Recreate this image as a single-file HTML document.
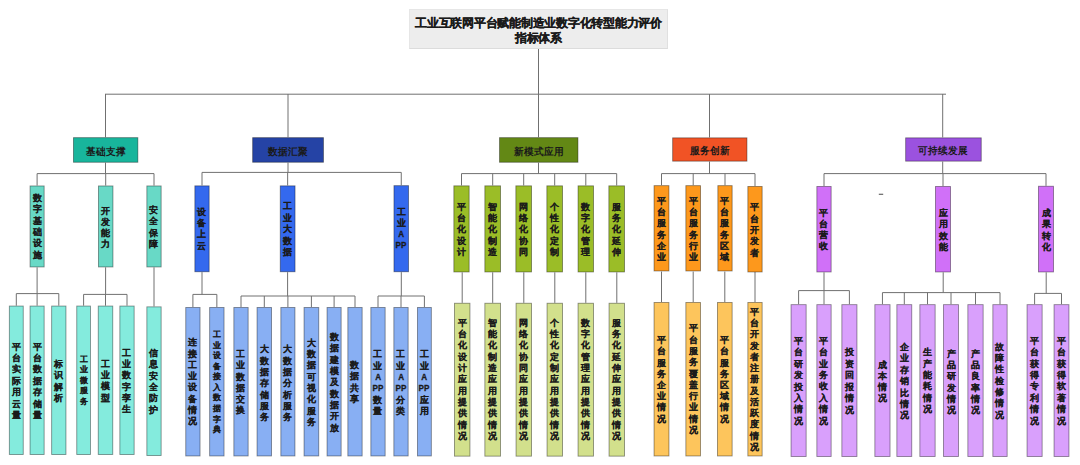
<!DOCTYPE html>
<html><head><meta charset="utf-8"><title>指标体系</title>
<style>
html,body{margin:0;padding:0;background:#fff;}
body{width:1080px;height:465px;position:relative;overflow:hidden;font-family:"Liberation Sans", sans-serif;}
.ln{position:absolute;left:0;top:0;}
.title{position:absolute;left:409px;top:9px;width:259px;height:40px;box-sizing:border-box;background:#ededed;border:1px solid #e6e6e6;border-bottom-color:#dcdcdc;border-right-color:#e0e0e0;}
.tt{position:absolute;left:409px;width:259px;text-align:center;font-size:12px;line-height:16px;transform:scale(0.98);transform-origin:50% 0;font-weight:bold;color:#1a1a1a;white-space:nowrap;-webkit-text-stroke:0.25px #1a1a1a;}
.l1{position:absolute;text-align:center;font-size:10px;transform:scale(1.0,1.04);transform-origin:50% 50%;font-weight:bold;color:#1a1a1a;white-space:nowrap;}
.t{position:absolute;text-align:center;font-weight:bold;color:#1a1a1a;white-space:nowrap;-webkit-text-stroke:0.12px #1a1a1a;}
.lat{font-size:9px;display:inline-block;transform:scale(0.9,1.0);-webkit-text-stroke:0.3px #1a1a1a;}
</style></head><body>
<svg class="ln" width="1080" height="465" viewBox="0 0 1080 465"><g stroke="#707070" stroke-width="1" fill="none"><line x1="538.5" y1="49" x2="538.5" y2="94"/><line x1="105" y1="94.2" x2="946" y2="94.2"/><line x1="878.8" y1="194.3" x2="883.2" y2="194.3" stroke="#666" stroke-width="1.2"/><line x1="105.5" y1="94" x2="105.5" y2="137.2"/><line x1="288" y1="94" x2="288" y2="137.2"/><line x1="538.5" y1="94" x2="538.5" y2="137.2"/><line x1="709.5" y1="94" x2="709.5" y2="137.4"/><line x1="942.7" y1="94" x2="942.7" y2="137.4"/><line x1="105.5" y1="162.7" x2="105.5" y2="173.6"/><line x1="37.1" y1="173.6" x2="154.0" y2="173.6"/><line x1="37.1" y1="173.6" x2="37.1" y2="185.5"/><line x1="105.7" y1="173.6" x2="105.7" y2="185.5"/><line x1="154.0" y1="173.6" x2="154.0" y2="185.5"/><line x1="288" y1="162.7" x2="288" y2="172.4"/><line x1="202.0" y1="172.4" x2="401.25" y2="172.4"/><line x1="202.0" y1="172.4" x2="202.0" y2="185.4"/><line x1="287.65" y1="172.4" x2="287.65" y2="185.4"/><line x1="401.25" y1="172.4" x2="401.25" y2="185.2"/><line x1="538.5" y1="162.7" x2="538.5" y2="173.6"/><line x1="461.5" y1="173.6" x2="616.7" y2="173.6"/><line x1="461.5" y1="173.6" x2="461.5" y2="185.4"/><line x1="492.7" y1="173.6" x2="492.7" y2="185.4"/><line x1="523.7" y1="173.6" x2="523.7" y2="185.4"/><line x1="554.7" y1="173.6" x2="554.7" y2="185.4"/><line x1="585.8" y1="173.6" x2="585.8" y2="185.4"/><line x1="616.7" y1="173.6" x2="616.7" y2="185.4"/><line x1="709.5" y1="161.6" x2="709.5" y2="173.6"/><line x1="661.5" y1="173.6" x2="755.0" y2="173.6"/><line x1="661.5" y1="173.6" x2="661.5" y2="185.2"/><line x1="693.2" y1="173.6" x2="693.2" y2="185.2"/><line x1="725.0" y1="173.6" x2="725.0" y2="185.2"/><line x1="755.0" y1="173.6" x2="755.0" y2="186"/><line x1="942.7" y1="161.6" x2="942.7" y2="173.6"/><line x1="824.0" y1="173.6" x2="1046.0" y2="173.6"/><line x1="824.0" y1="173.6" x2="824.0" y2="186"/><line x1="943.0" y1="173.6" x2="943.0" y2="186"/><line x1="1046.0" y1="173.6" x2="1046.0" y2="185.8"/><line x1="37.1" y1="267.4" x2="37.1" y2="293.6"/><line x1="16.3" y1="293.6" x2="58.800000000000004" y2="293.6"/><line x1="16.3" y1="293.6" x2="16.3" y2="305.6"/><line x1="37.1" y1="293.6" x2="37.1" y2="305.6"/><line x1="58.800000000000004" y1="293.6" x2="58.800000000000004" y2="305.6"/><line x1="105.6" y1="267.4" x2="105.6" y2="294.4"/><line x1="83.6" y1="294.4" x2="127.0" y2="294.4"/><line x1="83.6" y1="294.4" x2="83.6" y2="305.6"/><line x1="105.5" y1="294.4" x2="105.5" y2="305.6"/><line x1="127.0" y1="294.4" x2="127.0" y2="305.6"/><line x1="154" y1="267.4" x2="154" y2="306.4"/><line x1="202" y1="272.2" x2="202" y2="294.4"/><line x1="192.9" y1="294.4" x2="216.85" y2="294.4"/><line x1="192.9" y1="294.4" x2="192.9" y2="307"/><line x1="216.85" y1="294.4" x2="216.85" y2="307"/><line x1="287.6" y1="272.2" x2="287.6" y2="296"/><line x1="241.0" y1="296" x2="355.0" y2="296"/><line x1="241.0" y1="296" x2="241.0" y2="307"/><line x1="264.3" y1="296" x2="264.3" y2="307"/><line x1="287.9" y1="296" x2="287.9" y2="307"/><line x1="311.4" y1="296" x2="311.4" y2="307"/><line x1="334.1" y1="296" x2="334.1" y2="307"/><line x1="355.0" y1="296" x2="355.0" y2="307"/><line x1="401.3" y1="272.2" x2="401.3" y2="296"/><line x1="378.0" y1="296" x2="424.4" y2="296"/><line x1="378.0" y1="296" x2="378.0" y2="307"/><line x1="401.0" y1="296" x2="401.0" y2="307"/><line x1="424.4" y1="296" x2="424.4" y2="307"/><line x1="462.2" y1="272.4" x2="462.2" y2="302.8"/><line x1="492.7" y1="272.4" x2="492.7" y2="302.8"/><line x1="523.8" y1="272.4" x2="523.8" y2="302.8"/><line x1="554.8" y1="272.4" x2="554.8" y2="302.8"/><line x1="585.8" y1="272.4" x2="585.8" y2="302.8"/><line x1="616.8" y1="272.4" x2="616.8" y2="302.8"/><line x1="661.5" y1="271.6" x2="661.5" y2="302"/><line x1="693.2" y1="271.6" x2="693.2" y2="302"/><line x1="724.8" y1="271.6" x2="724.8" y2="302"/><line x1="755.0" y1="271.6" x2="755.0" y2="302"/><line x1="824" y1="272.4" x2="824" y2="290.6"/><line x1="798.6" y1="290.6" x2="849.4" y2="290.6"/><line x1="798.6" y1="290.6" x2="798.6" y2="304.2"/><line x1="824.0" y1="290.6" x2="824.0" y2="304.2"/><line x1="849.4" y1="290.6" x2="849.4" y2="304.2"/><line x1="943.2" y1="272.4" x2="943.2" y2="292.6"/><line x1="882.45" y1="292.6" x2="1000.0" y2="292.6"/><line x1="882.45" y1="292.6" x2="882.45" y2="304.2"/><line x1="904.3" y1="292.6" x2="904.3" y2="304.2"/><line x1="927.5" y1="292.6" x2="927.5" y2="304.2"/><line x1="951.0" y1="292.6" x2="951.0" y2="304.2"/><line x1="975.5" y1="292.6" x2="975.5" y2="304.2"/><line x1="1000.0" y1="292.6" x2="1000.0" y2="304.2"/><line x1="1046.2" y1="272.4" x2="1046.2" y2="293.4"/><line x1="1034.6" y1="293.4" x2="1061.5" y2="293.4"/><line x1="1034.6" y1="293.4" x2="1034.6" y2="304.2"/><line x1="1061.5" y1="293.4" x2="1061.5" y2="304.2"/></g><g stroke-width="0.9"><rect x="73.45" y="137.65" width="64.40" height="24.60" fill="#18b59c" stroke="rgba(0,0,0,0.42)"/><rect x="252.65" y="137.65" width="70.80" height="24.60" fill="#2543a5" stroke="rgba(0,0,0,0.42)"/><rect x="499.55" y="137.65" width="78.40" height="24.60" fill="#638815" stroke="rgba(0,0,0,0.42)"/><rect x="672.65" y="137.85" width="74.30" height="23.30" fill="#f15325" stroke="rgba(0,0,0,0.42)"/><rect x="905.65" y="137.85" width="75.60" height="23.30" fill="#9b52df" stroke="rgba(0,0,0,0.42)"/><rect x="30.05" y="185.95" width="14.10" height="81.00" fill="#68d9c6" stroke="rgba(0,0,0,0.42)"/><rect x="98.45" y="185.95" width="14.50" height="81.00" fill="#68d9c6" stroke="rgba(0,0,0,0.42)"/><rect x="146.85" y="185.95" width="14.30" height="81.00" fill="#68d9c6" stroke="rgba(0,0,0,0.42)"/><rect x="194.85" y="185.85" width="14.30" height="85.90" fill="#3469ee" stroke="rgba(0,0,0,0.42)"/><rect x="280.25" y="185.85" width="14.80" height="85.90" fill="#3469ee" stroke="rgba(0,0,0,0.42)"/><rect x="393.95" y="185.65" width="14.60" height="86.10" fill="#3469ee" stroke="rgba(0,0,0,0.42)"/><rect x="453.85" y="185.85" width="15.30" height="86.10" fill="#9bbd27" stroke="rgba(0,0,0,0.42)"/><rect x="484.85" y="185.85" width="15.70" height="86.10" fill="#9bbd27" stroke="rgba(0,0,0,0.42)"/><rect x="515.85" y="185.85" width="15.70" height="86.10" fill="#9bbd27" stroke="rgba(0,0,0,0.42)"/><rect x="546.85" y="185.85" width="15.70" height="86.10" fill="#9bbd27" stroke="rgba(0,0,0,0.42)"/><rect x="578.05" y="185.85" width="15.50" height="86.10" fill="#9bbd27" stroke="rgba(0,0,0,0.42)"/><rect x="608.85" y="185.85" width="15.70" height="86.10" fill="#9bbd27" stroke="rgba(0,0,0,0.42)"/><rect x="654.05" y="185.65" width="14.90" height="85.30" fill="#fd981c" stroke="rgba(0,0,0,0.42)"/><rect x="685.85" y="185.65" width="14.70" height="85.30" fill="#fd981c" stroke="rgba(0,0,0,0.42)"/><rect x="717.85" y="185.65" width="14.30" height="85.30" fill="#fd981c" stroke="rgba(0,0,0,0.42)"/><rect x="747.85" y="186.45" width="14.30" height="85.50" fill="#fd981c" stroke="rgba(0,0,0,0.42)"/><rect x="816.85" y="186.45" width="14.30" height="85.50" fill="#d070f8" stroke="rgba(0,0,0,0.42)"/><rect x="935.45" y="186.45" width="15.10" height="85.50" fill="#d070f8" stroke="rgba(0,0,0,0.42)"/><rect x="1038.45" y="186.25" width="15.10" height="85.70" fill="#d070f8" stroke="rgba(0,0,0,0.42)"/><rect x="9.35" y="306.05" width="13.90" height="148.50" fill="#84ebdd" stroke="rgba(0,0,0,0.42)"/><rect x="30.05" y="306.05" width="14.10" height="148.50" fill="#84ebdd" stroke="rgba(0,0,0,0.42)"/><rect x="51.65" y="306.05" width="14.30" height="148.50" fill="#84ebdd" stroke="rgba(0,0,0,0.42)"/><rect x="76.75" y="306.05" width="13.70" height="148.50" fill="#84ebdd" stroke="rgba(0,0,0,0.42)"/><rect x="98.25" y="306.05" width="14.50" height="148.50" fill="#84ebdd" stroke="rgba(0,0,0,0.42)"/><rect x="119.85" y="306.05" width="14.30" height="148.50" fill="#84ebdd" stroke="rgba(0,0,0,0.42)"/><rect x="146.85" y="306.85" width="14.30" height="148.70" fill="#84ebdd" stroke="rgba(0,0,0,0.42)"/><rect x="185.75" y="307.45" width="14.30" height="148.50" fill="#88aff3" stroke="rgba(0,0,0,0.42)"/><rect x="209.65" y="307.45" width="14.40" height="148.50" fill="#88aff3" stroke="rgba(0,0,0,0.42)"/><rect x="233.85" y="307.45" width="14.30" height="148.50" fill="#88aff3" stroke="rgba(0,0,0,0.42)"/><rect x="257.05" y="307.45" width="14.50" height="148.50" fill="#88aff3" stroke="rgba(0,0,0,0.42)"/><rect x="280.85" y="307.45" width="14.10" height="148.50" fill="#88aff3" stroke="rgba(0,0,0,0.42)"/><rect x="304.05" y="307.45" width="14.70" height="148.50" fill="#88aff3" stroke="rgba(0,0,0,0.42)"/><rect x="327.05" y="307.45" width="14.10" height="148.50" fill="#88aff3" stroke="rgba(0,0,0,0.42)"/><rect x="347.85" y="307.45" width="14.30" height="148.50" fill="#88aff3" stroke="rgba(0,0,0,0.42)"/><rect x="370.85" y="307.45" width="14.30" height="148.50" fill="#88aff3" stroke="rgba(0,0,0,0.42)"/><rect x="393.85" y="307.45" width="14.30" height="148.50" fill="#88aff3" stroke="rgba(0,0,0,0.42)"/><rect x="417.45" y="307.45" width="13.90" height="148.50" fill="#88aff3" stroke="rgba(0,0,0,0.42)"/><rect x="454.45" y="303.25" width="15.50" height="152.90" fill="#d2e08c" stroke="rgba(0,0,0,0.42)"/><rect x="484.85" y="303.25" width="15.70" height="152.90" fill="#d2e08c" stroke="rgba(0,0,0,0.42)"/><rect x="516.05" y="303.25" width="15.50" height="152.90" fill="#d2e08c" stroke="rgba(0,0,0,0.42)"/><rect x="547.05" y="303.25" width="15.50" height="152.90" fill="#d2e08c" stroke="rgba(0,0,0,0.42)"/><rect x="578.05" y="303.25" width="15.50" height="152.90" fill="#d2e08c" stroke="rgba(0,0,0,0.42)"/><rect x="609.05" y="303.25" width="15.50" height="152.90" fill="#d2e08c" stroke="rgba(0,0,0,0.42)"/><rect x="654.05" y="302.45" width="14.90" height="153.50" fill="#fdc55c" stroke="rgba(0,0,0,0.42)"/><rect x="685.85" y="302.45" width="14.70" height="153.50" fill="#fdc55c" stroke="rgba(0,0,0,0.42)"/><rect x="717.45" y="302.45" width="14.70" height="153.50" fill="#fdc55c" stroke="rgba(0,0,0,0.42)"/><rect x="747.85" y="302.45" width="14.30" height="153.50" fill="#fdc55c" stroke="rgba(0,0,0,0.42)"/><rect x="791.05" y="304.65" width="15.10" height="151.90" fill="#d9a0fc" stroke="rgba(0,0,0,0.42)"/><rect x="816.85" y="304.65" width="14.30" height="151.90" fill="#d9a0fc" stroke="rgba(0,0,0,0.42)"/><rect x="841.85" y="304.65" width="15.10" height="151.90" fill="#d9a0fc" stroke="rgba(0,0,0,0.42)"/><rect x="874.85" y="304.65" width="15.20" height="151.90" fill="#d9a0fc" stroke="rgba(0,0,0,0.42)"/><rect x="896.85" y="304.65" width="14.90" height="151.90" fill="#d9a0fc" stroke="rgba(0,0,0,0.42)"/><rect x="919.85" y="304.65" width="15.30" height="151.90" fill="#d9a0fc" stroke="rgba(0,0,0,0.42)"/><rect x="943.45" y="304.65" width="15.10" height="151.90" fill="#d9a0fc" stroke="rgba(0,0,0,0.42)"/><rect x="967.85" y="304.65" width="15.30" height="151.90" fill="#d9a0fc" stroke="rgba(0,0,0,0.42)"/><rect x="992.85" y="304.65" width="14.30" height="151.90" fill="#d9a0fc" stroke="rgba(0,0,0,0.42)"/><rect x="1027.05" y="304.65" width="15.10" height="151.90" fill="#d9a0fc" stroke="rgba(0,0,0,0.42)"/><rect x="1054.05" y="304.65" width="14.90" height="151.90" fill="#d9a0fc" stroke="rgba(0,0,0,0.42)"/></g></svg>
<div class="title"></div><div class="tt" style="top:15.1px">工业互联网平台赋能制造业数字化转型能力评价</div><div class="tt" style="top:30.2px">指标体系</div><div class="l1" style="left:73.00px;top:138.70px;width:65.30px;height:25.50px;line-height:25.50px">基础支撑</div><div class="l1" style="left:252.20px;top:138.70px;width:71.70px;height:25.50px;line-height:25.50px">数据汇聚</div><div class="l1" style="left:499.10px;top:138.70px;width:79.30px;height:25.50px;line-height:25.50px">新模式应用</div><div class="l1" style="left:672.20px;top:138.90px;width:75.20px;height:24.20px;line-height:24.20px">服务创新</div><div class="l1" style="left:905.20px;top:138.90px;width:76.50px;height:24.20px;line-height:24.20px">可持续发展</div><div class="t" style="left:29.60px;top:192.80px;width:15.00px;font-size:9px;line-height:11.400px">数<br>字<br>基<br>础<br>设<br>施</div><div class="t" style="left:98.00px;top:205.50px;width:15.40px;font-size:9px;line-height:11.200px">开<br>发<br>能<br>力</div><div class="t" style="left:146.40px;top:204.67px;width:15.20px;font-size:9px;line-height:11.467px">安<br>全<br>保<br>障</div><div class="t" style="left:194.40px;top:206.83px;width:15.20px;font-size:9px;line-height:11.333px">设<br>备<br>上<br>云</div><div class="t" style="left:279.80px;top:201.05px;width:15.70px;font-size:9px;line-height:11.500px">工<br>业<br>大<br>数<br>据</div><div class="t" style="left:393.50px;top:206.70px;width:15.50px;font-size:9px;line-height:11.200px">工<br>业<br><span class="lat">A</span><br><span class="lat">PP</span></div><div class="t" style="left:453.40px;top:201.75px;width:16.20px;font-size:9px;line-height:11.300px">平<br>台<br>化<br>设<br>计</div><div class="t" style="left:484.40px;top:201.75px;width:16.60px;font-size:9px;line-height:11.300px">智<br>能<br>化<br>制<br>造</div><div class="t" style="left:515.40px;top:201.75px;width:16.60px;font-size:9px;line-height:11.300px">网<br>络<br>化<br>协<br>同</div><div class="t" style="left:546.40px;top:201.75px;width:16.60px;font-size:9px;line-height:11.300px">个<br>性<br>化<br>定<br>制</div><div class="t" style="left:577.60px;top:201.75px;width:16.40px;font-size:9px;line-height:11.300px">数<br>字<br>化<br>管<br>理</div><div class="t" style="left:608.40px;top:201.75px;width:16.60px;font-size:9px;line-height:11.300px">服<br>务<br>化<br>延<br>伸</div><div class="t" style="left:653.60px;top:195.90px;width:15.80px;font-size:9px;line-height:11.200px">平<br>台<br>服<br>务<br>企<br>业</div><div class="t" style="left:685.40px;top:195.90px;width:15.60px;font-size:9px;line-height:11.200px">平<br>台<br>服<br>务<br>行<br>业</div><div class="t" style="left:717.40px;top:195.90px;width:15.20px;font-size:9px;line-height:11.200px">平<br>台<br>服<br>务<br>区<br>域</div><div class="t" style="left:747.40px;top:202.10px;width:15.20px;font-size:9px;line-height:11.400px">平<br>台<br>开<br>发<br>者</div><div class="t" style="left:816.40px;top:207.70px;width:15.20px;font-size:9px;line-height:11.200px">平<br>台<br>营<br>收</div><div class="t" style="left:935.00px;top:208.20px;width:16.00px;font-size:9px;line-height:11.200px">应<br>用<br>效<br>能</div><div class="t" style="left:1038.00px;top:208.20px;width:16.00px;font-size:9px;line-height:11.200px">成<br>果<br>转<br>化</div><div class="t" style="left:8.90px;top:341.72px;width:14.80px;font-size:9px;line-height:11.367px">平<br>台<br>实<br>际<br>用<br>云<br>量</div><div class="t" style="left:29.60px;top:341.72px;width:15.00px;font-size:9px;line-height:11.367px">平<br>台<br>数<br>据<br>存<br>储<br>量</div><div class="t" style="left:51.20px;top:358.67px;width:15.20px;font-size:9px;line-height:11.467px">标<br>识<br>解<br>析</div><div class="t" style="left:76.30px;top:354.91px;width:14.60px;font-size:8px;line-height:10.475px">工<br>业<br>微<br>服<br>务</div><div class="t" style="left:97.80px;top:359.07px;width:15.40px;font-size:9px;line-height:11.167px">工<br>业<br>模<br>型</div><div class="t" style="left:119.40px;top:347.90px;width:15.20px;font-size:9px;line-height:11.200px">工<br>业<br>数<br>字<br>孪<br>生</div><div class="t" style="left:146.40px;top:347.80px;width:15.20px;font-size:9px;line-height:11.400px">信<br>息<br>安<br>全<br>防<br>护</div><div class="t" style="left:185.30px;top:337.26px;width:15.20px;font-size:9px;line-height:11.286px">连<br>接<br>工<br>业<br>设<br>备<br>情<br>况</div><div class="t" style="left:209.20px;top:330.26px;width:15.30px;font-size:8px;line-height:10.539px">工<br>业<br>设<br>备<br>接<br>入<br>数<br>据<br>字<br>典</div><div class="t" style="left:233.40px;top:349.06px;width:15.20px;font-size:9px;line-height:11.280px">工<br>业<br>数<br>据<br>交<br>换</div><div class="t" style="left:256.60px;top:344.22px;width:15.40px;font-size:9px;line-height:11.367px">大<br>数<br>据<br>存<br>储<br>服<br>务</div><div class="t" style="left:280.40px;top:344.22px;width:15.00px;font-size:9px;line-height:11.367px">大<br>数<br>据<br>分<br>析<br>服<br>务</div><div class="t" style="left:303.60px;top:337.73px;width:15.60px;font-size:9px;line-height:11.343px">大<br>数<br>据<br>可<br>视<br>化<br>服<br>务</div><div class="t" style="left:326.60px;top:331.81px;width:15.00px;font-size:9px;line-height:11.375px">数<br>据<br>建<br>模<br>及<br>数<br>据<br>开<br>放</div><div class="t" style="left:347.40px;top:360.33px;width:15.20px;font-size:9px;line-height:11.133px">数<br>据<br>共<br>享</div><div class="t" style="left:370.40px;top:349.44px;width:15.20px;font-size:9px;line-height:11.320px">工<br>业<br><span class="lat">A</span><br><span class="lat">PP</span><br>数<br>量</div><div class="t" style="left:393.40px;top:349.44px;width:15.20px;font-size:9px;line-height:11.320px">工<br>业<br><span class="lat">A</span><br><span class="lat">PP</span><br>分<br>类</div><div class="t" style="left:417.00px;top:349.44px;width:14.80px;font-size:9px;line-height:11.320px">工<br>业<br><span class="lat">A</span><br><span class="lat">PP</span><br>应<br>用</div><div class="t" style="left:454.00px;top:317.85px;width:16.40px;font-size:9px;line-height:11.300px">平<br>台<br>化<br>设<br>计<br>应<br>用<br>提<br>供<br>情<br>况</div><div class="t" style="left:484.40px;top:317.85px;width:16.60px;font-size:9px;line-height:11.300px">智<br>能<br>化<br>制<br>造<br>应<br>用<br>提<br>供<br>情<br>况</div><div class="t" style="left:515.60px;top:317.85px;width:16.40px;font-size:9px;line-height:11.300px">网<br>络<br>化<br>协<br>同<br>应<br>用<br>提<br>供<br>情<br>况</div><div class="t" style="left:546.60px;top:317.85px;width:16.40px;font-size:9px;line-height:11.300px">个<br>性<br>化<br>定<br>制<br>应<br>用<br>提<br>供<br>情<br>况</div><div class="t" style="left:577.60px;top:317.85px;width:16.40px;font-size:9px;line-height:11.300px">数<br>字<br>化<br>管<br>理<br>应<br>用<br>提<br>供<br>情<br>况</div><div class="t" style="left:608.60px;top:317.85px;width:16.40px;font-size:9px;line-height:11.300px">服<br>务<br>化<br>延<br>伸<br>应<br>用<br>提<br>供<br>情<br>况</div><div class="t" style="left:653.60px;top:335.10px;width:15.80px;font-size:9px;line-height:11.200px">平<br>台<br>服<br>务<br>企<br>业<br>情<br>况</div><div class="t" style="left:685.40px;top:323.46px;width:15.60px;font-size:9px;line-height:11.289px">平<br>台<br>服<br>务<br>覆<br>盖<br>行<br>业<br>情<br>况</div><div class="t" style="left:717.00px;top:335.10px;width:15.60px;font-size:9px;line-height:11.200px">平<br>台<br>服<br>务<br>区<br>域<br>情<br>况</div><div class="t" style="left:747.40px;top:306.88px;width:15.20px;font-size:9px;line-height:11.250px">平<br>台<br>开<br>发<br>者<br>注<br>册<br>及<br>活<br>跃<br>度<br>情<br>况</div><div class="t" style="left:790.60px;top:336.11px;width:16.00px;font-size:9px;line-height:11.371px">平<br>台<br>研<br>发<br>投<br>入<br>情<br>况</div><div class="t" style="left:816.40px;top:335.79px;width:15.20px;font-size:9px;line-height:11.429px">平<br>台<br>业<br>务<br>收<br>入<br>情<br>况</div><div class="t" style="left:841.40px;top:347.04px;width:16.00px;font-size:9px;line-height:11.520px">投<br>资<br>回<br>报<br>情<br>况</div><div class="t" style="left:874.40px;top:359.53px;width:16.10px;font-size:9px;line-height:11.133px">成<br>本<br>情<br>况</div><div class="t" style="left:896.40px;top:342.00px;width:15.80px;font-size:9px;line-height:11.400px">企<br>业<br>存<br>销<br>比<br>情<br>况</div><div class="t" style="left:919.40px;top:347.44px;width:16.20px;font-size:9px;line-height:11.320px">生<br>产<br>能<br>耗<br>情<br>况</div><div class="t" style="left:943.00px;top:348.64px;width:16.00px;font-size:9px;line-height:11.320px">产<br>品<br>研<br>发<br>情<br>况</div><div class="t" style="left:967.40px;top:348.64px;width:16.20px;font-size:9px;line-height:11.320px">产<br>品<br>良<br>率<br>情<br>况</div><div class="t" style="left:992.40px;top:341.83px;width:15.20px;font-size:9px;line-height:11.333px">故<br>障<br>性<br>检<br>修<br>情<br>况</div><div class="t" style="left:1026.60px;top:335.79px;width:16.00px;font-size:9px;line-height:11.429px">平<br>台<br>获<br>得<br>专<br>利<br>情<br>况</div><div class="t" style="left:1053.60px;top:335.79px;width:15.80px;font-size:9px;line-height:11.429px">平<br>台<br>获<br>得<br>软<br>著<br>情<br>况</div>
</body></html>
